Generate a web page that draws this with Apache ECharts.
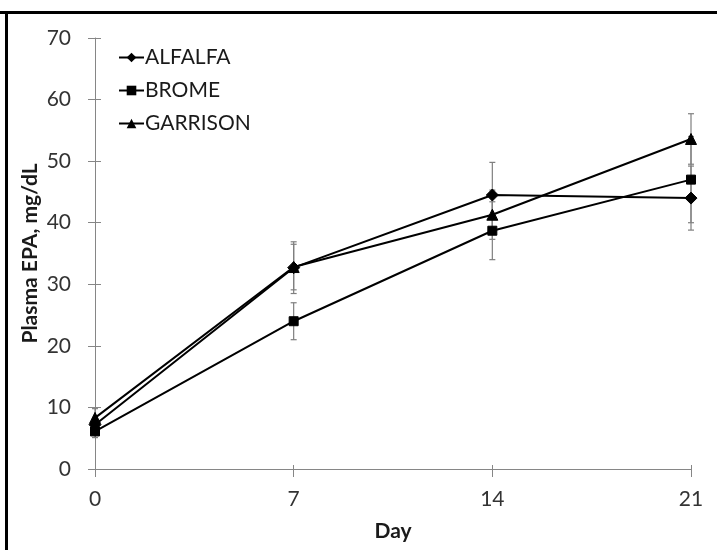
<!DOCTYPE html>
<html>
<head>
<meta charset="utf-8">
<script src="https://cdn.jsdelivr.net/npm/echarts@6/dist/echarts.min.js"></script>
<style>
html,body{margin:0;padding:0;background:#fff;}
#chart{width:717px;height:550px;}
</style>
</head>
<body>
<div id="chart"></div>
<script>
const days = [0, 7, 14, 21];
const seriesNames = ['ALFALFA', 'BROME', 'GARRISON'];
const alfalfa = [7.2, 32.7, 44.5, 44.0];
const alfalfaErr = [1.0, 4.2, 5.3, 5.2];
const brome = [6.1, 24.0, 38.7, 47.0];
const bromeErr = [1.0, 3.0, 4.7, 7.0];
const garrison = [8.3, 32.8, 41.3, 53.6];
const garrisonErr = [1.5, 3.7, 4.0, 4.1];
const yTicks = [0, 10, 20, 30, 40, 50, 60, 70];
const xTicks = [0, 7, 14, 21];

const FONT = 'Lato';
const chart = echarts.init(document.getElementById('chart'), null, {renderer: 'canvas'});

function pairs(vals) { return days.map((d, i) => [d, vals[i]]); }
function errData(vals, errs) { return days.map((d, i) => [d, vals[i] - errs[i], vals[i] + errs[i]]); }

function errorSeries(vals, errs) {
  return {
    type: 'custom',
    xAxisIndex: 0, yAxisIndex: 0,
    z: 1,
    silent: true,
    data: errData(vals, errs),
    renderItem: function (params, api) {
      const x = api.value(0);
      const lo = api.coord([x, api.value(1)]);
      const hi = api.coord([x, api.value(2)]);
      const w = 3;
      const st = {stroke: '#7f7f7f', lineWidth: 1.2};
      return {
        type: 'group',
        children: [
          {type: 'line', shape: {x1: lo[0], y1: lo[1], x2: hi[0], y2: hi[1]}, style: st},
          {type: 'line', shape: {x1: lo[0] - w, y1: lo[1], x2: lo[0] + w, y2: lo[1]}, style: st},
          {type: 'line', shape: {x1: hi[0] - w, y1: hi[1], x2: hi[0] + w, y2: hi[1]}, style: st}
        ]
      };
    }
  };
}

function lineSeries(name, vals, symbol, size) {
  return {
    name: name,
    type: 'line',
    xAxisIndex: 0, yAxisIndex: 0,
    z: 3,
    data: pairs(vals),
    symbol: symbol,
    symbolSize: size,
    showAllSymbol: true,
    lineStyle: {color: '#000', width: 2},
    itemStyle: {color: '#000', borderColor: '#000'},
    emphasis: {disabled: true},
    animation: false
  };
}

const axisLineStyle = {color: '#868686', width: 1};

const option = {
  animation: false,
  backgroundColor: '#fff',
  grid: {left: 95, right: 26, top: 38, bottom: 81, containLabel: false, outerBoundsMode: 'none'},
  legend: {
    orient: 'vertical',
    left: 113,
    top: 42,
    itemGap: 12,
    itemWidth: 25,
    itemHeight: 12,
    data: seriesNames,
    textStyle: {fontFamily: FONT, fontSize: 21, color: '#1a1a1a', padding: [0, 0, 0, -4]},
    selectedMode: false
  },
  xAxis: [
    {
      type: 'value', min: 0, max: 21, interval: 7,
      position: 'bottom',
      name: 'Day', nameLocation: 'middle', nameGap: 52, nameMoveOverlap: false,
      nameTextStyle: {fontFamily: FONT, fontSize: 21, fontWeight: 'bold', color: '#1a1a1a'},
      axisLine: {show: true, lineStyle: axisLineStyle},
      axisTick: {show: true, length: 8, lineStyle: axisLineStyle},
      axisLabel: {fontFamily: FONT, fontSize: 21, color: '#333', margin: 20,
        formatter: v => xTicks.includes(v) ? String(v) : ''},
      splitLine: {show: false}
    },
    {
      type: 'value', min: 0, max: 21, interval: 7,
      position: 'bottom', offset: 0,
      axisLine: {show: false},
      axisTick: {show: true, inside: true, length: 4, lineStyle: axisLineStyle},
      axisLabel: {show: false},
      splitLine: {show: false}
    }
  ],
  yAxis: [
    {
      type: 'value', min: 0, max: 70, interval: 10,
      position: 'left',
      name: 'Plasma EPA, mg/dL', nameLocation: 'middle', nameGap: 54, nameMoveOverlap: false,
      nameTextStyle: {fontFamily: FONT, fontSize: 21, fontWeight: 'bold', color: '#1a1a1a'},
      axisLine: {show: true, lineStyle: axisLineStyle},
      axisTick: {show: true, length: 7, lineStyle: axisLineStyle},
      axisLabel: {fontFamily: FONT, fontSize: 21, color: '#333', margin: 24,
        formatter: v => yTicks.includes(v) ? String(v) : ''},
      splitLine: {show: false}
    },
    {
      type: 'value', min: 0, max: 70, interval: 10,
      position: 'left', offset: 0,
      axisLine: {show: false},
      axisTick: {show: true, inside: true, length: 6, lineStyle: axisLineStyle},
      axisLabel: {show: false},
      splitLine: {show: false}
    }
  ],
  graphic: [
    {type: 'rect', left: 0, top: 11, shape: {width: 717, height: 3}, style: {fill: '#000'}, z: 100},
    {type: 'rect', left: 5, top: 11, shape: {width: 3, height: 539}, style: {fill: '#000'}, z: 100}
  ],
  series: [
    errorSeries(alfalfa, alfalfaErr),
    errorSeries(brome, bromeErr),
    errorSeries(garrison, garrisonErr),
    lineSeries('ALFALFA', alfalfa, 'diamond', 12),
    lineSeries('BROME', brome, 'rect', 9),
    lineSeries('GARRISON', garrison, 'triangle', 11)
  ]
};
chart.setOption(option);
</script>
</body>
</html>
